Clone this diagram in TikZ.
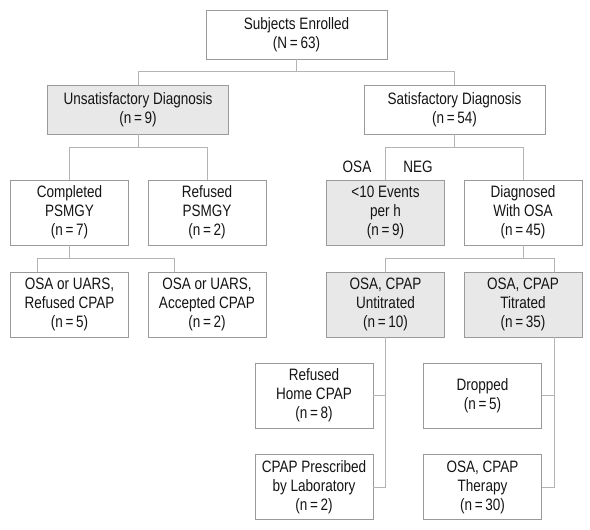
\documentclass[tikz,border=0pt]{standalone}
\usepackage{fontspec}
\setmainfont{Liberation Sans}[FakeStretch=0.82]
\usepackage{xcolor}
\definecolor{boxline}{HTML}{9A9A9A}
\definecolor{linkline}{HTML}{B4B4B4}
\definecolor{boxfill}{HTML}{E8E8E8}
\definecolor{inkcol}{HTML}{141414}

\begin{document}
\begin{tikzpicture}[x=1pt,y=-1pt,
  wide/.style={draw=boxline,line width=0.8pt,minimum width=181pt,minimum height=49pt,inner sep=0pt,align=center,text=inkcol,font=\fontsize{16.5}{19}\selectfont},
  tall/.style={wide,minimum width=118pt,minimum height=65pt},
  grey/.style={fill=boxfill},
  link/.style={draw=linkline,line width=0.8pt},
  lbl/.style={text=inkcol,font=\fontsize{16.5}{19}\selectfont}]
\useasboundingbox (0,0) rectangle (590,530);
\node[wide] (enrolled) at (296.5,34.5) {Subjects Enrolled\\(N\,=\,63)};
\node[wide,grey] (unsat) at (138,109.5) {Unsatisfactory Diagnosis\\(n\,=\,9)};
\node[wide] (sat) at (454.5,109.5) {Satisfactory Diagnosis\\(n\,=\,54)};
\node[tall] (completed) at (69.5,212.5) {Completed\\PSMGY\\(n\,=\,7)};
\node[tall] (refpsg) at (207,212.5) {Refused\\PSMGY\\(n\,=\,2)};
\node[tall,grey] (events) at (385.5,212.5) {<10 Events\\per h\\(n\,=\,9)};
\node[tall] (diagnosed) at (523,212.5) {Diagnosed\\With OSA\\(n\,=\,45)};
\node[tall] (uarsref) at (69.5,304.5) {OSA or UARS,\\Refused CPAP\\(n\,=\,5)};
\node[tall] (uarsacc) at (207,304.5) {OSA or UARS,\\Accepted CPAP\\(n\,=\,2)};
\node[tall,grey] (untitr) at (385.5,304.5) {OSA, CPAP\\Untitrated\\(n\,=\,10)};
\node[tall,grey] (titr) at (523,304.5) {OSA, CPAP\\Titrated\\(n\,=\,35)};
\node[tall] (homecpap) at (314,395.5) {Refused\\Home CPAP\\(n\,=\,8)};
\node[tall] (prescr) at (314,487) {CPAP Prescribed\\by Laboratory\\(n\,=\,2)};
\node[tall] (dropped) at (482.5,395.5) {Dropped\\(n\,=\,5)};
\node[tall] (therapy) at (482.5,487) {OSA, CPAP\\Therapy\\(n\,=\,30)};
\node[lbl] (osa) at (357,167) {OSA};
\node[lbl] (neg) at (418,167) {NEG};
\draw[link] (enrolled.south) -- ++(0,12) -| (unsat.north);
\draw[link] (enrolled.south) -- ++(0,12) -| (sat.north);
\draw[link] (unsat.south) -- ++(0,13) -| (completed.north);
\draw[link] (unsat.south) -- ++(0,13) -| (refpsg.north);
\draw[link] (sat.south) -- ++(0,13) -| (events.north);
\draw[link] (sat.south) -- ++(0,13) -| (diagnosed.north);
\draw[link] (completed.south) -- ++(0,13) -| ([xshift=27pt]uarsref.north west);
\draw[link] (completed.south) -- ++(0,13) -| ([xshift=27pt]uarsacc.north west);
\draw[link] (diagnosed.south) -- ++(0,13) -| (untitr.north);
\draw[link] (diagnosed.south) -- ++(0,13) -| ([xshift=-28pt]titr.north east);
\draw[link] (untitr.south) |- (homecpap.east);
\draw[link] (untitr.south) |- (prescr.east);
\draw[link] ([xshift=-28pt]titr.south east) |- (dropped.east);
\draw[link] ([xshift=-28pt]titr.south east) |- (therapy.east);
\end{tikzpicture}
\end{document}
